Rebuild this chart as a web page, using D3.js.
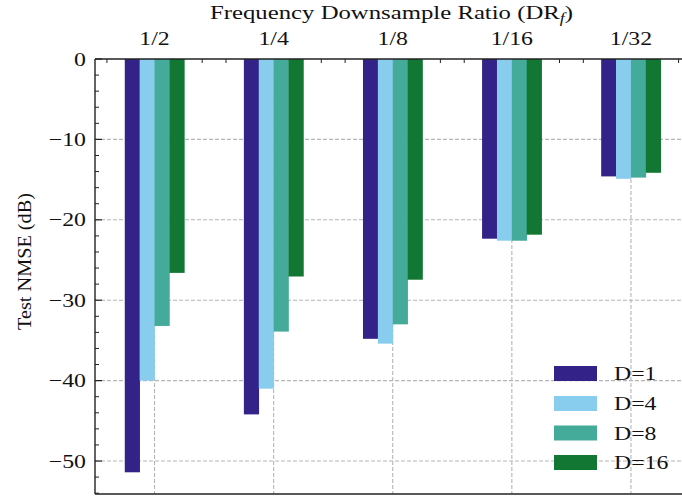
<!DOCTYPE html>
<html>
<head>
<meta charset="utf-8">
<script src="https://cdn.jsdelivr.net/npm/d3@7"></script>
<style>
  html, body { margin: 0; padding: 0; background: #fff; }
  svg { display: block; }
  text { font-family: "Liberation Serif", "DejaVu Serif", serif; fill: #111; }
</style>
</head>
<body>
<svg id="chart" width="682" height="497"></svg>
<script>
// ---- data ----
const categories = ["1/2", "1/4", "1/8", "1/16", "1/32"];
const seriesNames = ["D=1", "D=4", "D=8", "D=16"];
const seriesColors = ["#332288", "#88CCEE", "#44AA99", "#117733"];
const valuesD1  = [-51.4, -44.2, -34.8, -22.35, -14.6];
const valuesD4  = [-40.0, -41.0, -35.4, -22.6, -14.9];
const valuesD8  = [-33.2, -33.9, -33.0, -22.6, -14.75];
const valuesD16 = [-26.6, -27.05, -27.45, -21.85, -14.15];
const seriesValues = [valuesD1, valuesD4, valuesD8, valuesD16];
const yTicks = [0, -10, -20, -30, -40, -50];
const yMinorTicks = d3.range(0, -54.1, -2);
const xTitle = "Frequency Downsample Ratio (DR";
const yTitle = "Test NMSE (dB)";

// ---- layout ----
const svg = d3.select("#chart");
const L = 95, T = 59, B = 494, R = 690.5;
const FS = 19.5;
const WIDEN = 1.22;

const x = d3.scaleBand().domain(categories).range([L, R]).paddingInner(0).paddingOuter(0);
const xs = d3.scaleBand().domain(seriesNames)
  .range([x.bandwidth() * 0.25, x.bandwidth() * 0.75]).padding(0);
const y = d3.scaleLinear().domain([-54.1, 0]).range([B, T]);
const xi = d3.scaleLinear().domain([-0.5, categories.length - 0.5]).range([L, R]);

// ---- grid ----
const grid = svg.append("g");
grid.selectAll("line.h").data(yTicks.filter(d => d !== 0)).join("line")
  .attr("x1", L).attr("x2", R)
  .attr("y1", d => y(d)).attr("y2", d => y(d))
  .attr("stroke", "#b5b5b5").attr("stroke-width", 1.1)
  .attr("stroke-dasharray", "4,2");
grid.selectAll("line.v").data(categories).join("line")
  .attr("x1", d => x(d) + x.bandwidth() / 2).attr("x2", d => x(d) + x.bandwidth() / 2)
  .attr("y1", T).attr("y2", B)
  .attr("stroke", "#b5b5b5").attr("stroke-width", 1.1)
  .attr("stroke-dasharray", "4,2");

// ---- bars ----
const barData = [];
categories.forEach((c, i) => {
  seriesNames.forEach((s, j) => {
    barData.push({ c, s, j, v: seriesValues[j][i] });
  });
});
svg.append("g").selectAll("rect").data(barData).join("rect")
  .attr("x", d => x(d.c) + xs(d.s))
  .attr("width", xs.bandwidth() + 0.3)
  .attr("y", y(0))
  .attr("height", d => y(d.v) - y(0))
  .attr("fill", d => seriesColors[d.j]);

// ---- axes ----
const axG = svg.append("g").attr("stroke", "#222");
axG.append("line").attr("x1", L).attr("x2", L).attr("y1", T).attr("y2", B).attr("stroke-width", 1.4);
axG.append("line").attr("x1", L).attr("x2", R).attr("y1", B).attr("y2", B).attr("stroke-width", 1.4);
axG.append("line").attr("x1", L).attr("x2", R).attr("y1", T).attr("y2", T).attr("stroke-width", 1.4);
axG.append("line").attr("x1", R).attr("x2", R).attr("y1", T).attr("y2", B).attr("stroke-width", 1.4);

axG.selectAll("line.ymaj").data(yTicks).join("line")
  .attr("x1", L).attr("x2", L + 7)
  .attr("y1", d => y(d)).attr("y2", d => y(d)).attr("stroke-width", 1.2);
axG.selectAll("line.ymin").data(yMinorTicks.filter(d => d % 10 !== 0)).join("line")
  .attr("x1", L).attr("x2", L + 4)
  .attr("y1", d => y(d)).attr("y2", d => y(d)).attr("stroke-width", 1.0);
const topMinor = d3.range(-0.4, categories.length - 0.5, 0.2).filter(v => Math.abs(v - Math.round(v)) > 0.3);
axG.selectAll("line.xmin").data(topMinor).join("line")
  .attr("x1", d => xi(d)).attr("x2", d => xi(d))
  .attr("y1", T).attr("y2", T + 4).attr("stroke-width", 1.0);

const widen = sel => sel.each(function () {
  const w = this.getComputedTextLength();
  d3.select(this).attr("textLength", w * WIDEN).attr("lengthAdjust", "spacingAndGlyphs");
});

// y tick labels
svg.append("g").selectAll("text").data(yTicks).join("text")
  .attr("x", 86).attr("y", d => y(d))
  .attr("dy", "0.34em")
  .attr("text-anchor", "end")
  .attr("font-size", FS)
  .text(d => d === 0 ? "0" : "\u2212" + Math.abs(d))
  .call(widen);

// x tick labels (top)
svg.append("g").selectAll("text").data(categories).join("text")
  .attr("x", d => x(d) + x.bandwidth() / 2).attr("y", 45)
  .attr("text-anchor", "middle")
  .attr("font-size", FS)
  .text(d => d)
  .call(widen);

// x title
const xt = svg.append("text")
  .attr("x", 391.5).attr("y", 18.5)
  .attr("text-anchor", "middle")
  .attr("font-size", FS);
xt.append("tspan").text(xTitle);
xt.append("tspan").attr("font-style", "italic").attr("font-size", 14).attr("dy", 4).text("f");
xt.append("tspan").attr("dy", -4).text(")");
xt.attr("textLength", 363).attr("lengthAdjust", "spacingAndGlyphs");

// y title
svg.append("text")
  .attr("transform", "translate(31,261.5) rotate(-90)")
  .attr("text-anchor", "middle")
  .attr("font-size", FS)
  .text(yTitle)
  .attr("textLength", 137).attr("lengthAdjust", "spacingAndGlyphs");

// ---- legend ----
const leg = svg.append("g");
const legY = [373.5, 403.5, 433, 462.5];
seriesNames.forEach((s, j) => {
  leg.append("rect").attr("x", 554).attr("y", legY[j] - 7.5)
    .attr("width", 43).attr("height", 15).attr("fill", seriesColors[j]);
  leg.append("text").attr("x", 614).attr("y", legY[j]).attr("dy", "0.34em")
    .attr("font-size", FS).text(s).call(widen);
});
</script>
</body>
</html>
